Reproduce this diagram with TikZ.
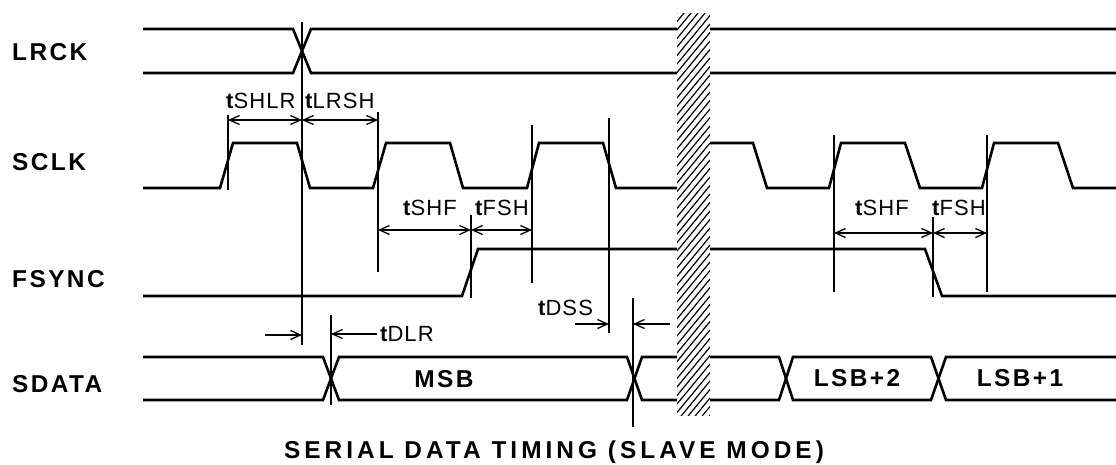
\documentclass[tikz,border=0pt]{standalone}
\usepackage{fontspec}
\setmainfont{Liberation Sans}
\newfontfamily\lab[LetterSpace=10]{Liberation Sans}
\newfontfamily\tim[LetterSpace=5]{Liberation Sans}
\newfontfamily\ttl[LetterSpace=16.5]{Liberation Sans}
\usetikzlibrary{arrows.meta}
\begin{document}
\begin{tikzpicture}[x=1pt,y=-1pt,
  wave/.style={line width=2.6pt, line join=miter},
  vline/.style={line width=1.3pt},
  dimarr/.style={line width=1.3pt, {Straight Barb[length=10pt,width=9pt]}-{Straight Barb[length=10pt,width=9pt]}},
  onearr/.style={line width=1.3pt, -{Straight Barb[length=10pt,width=9pt]}},
  siglab/.style={font=\lab\bfseries\fontsize{24.4}{26}\selectfont, anchor=base west, inner sep=0pt},
  datlab/.style={font=\lab\bfseries\fontsize{24.4}{26}\selectfont, anchor=base, inner sep=0pt},
  tlab/.style={font=\tim\fontsize{22}{24}\selectfont, anchor=base west, inner sep=0pt},
  ttlab/.style={font=\ttl\bfseries\fontsize{24.4}{26}\selectfont, anchor=base, inner sep=0pt},
]
\useasboundingbox (0,0) rectangle (1116,464);
% LRCK
\draw[wave] (143,29) -- (293,29) -- (311,73) -- (677,73);
\draw[wave] (143,73) -- (293,73) -- (311,29) -- (677,29);
\draw[wave] (710,29) -- (1122,29) -- (1135,73) -- (710,73);
% SCLK
\draw[wave] (143,188) -- (220,188) -- (233,143) -- (297,143) -- (310,188) -- (373,188) -- (386,143) -- (450,143) -- (463,188) -- (527,188) -- (539,143) -- (603,143) -- (616,188) -- (677,188);
\draw[wave] (710,143) -- (753,143) -- (767,188) -- (829,188) -- (841,143) -- (905,143) -- (920,188) -- (982,188) -- (994,143) -- (1058,143) -- (1073,188) -- (1122,188);
% FSYNC
\draw[wave] (143,296) -- (462,296) -- (478,249) -- (677,249);
\draw[wave] (710,249) -- (925,249) -- (942,296) -- (1122,296);
% SDATA
\draw[wave] (143,357) -- (323,357) -- (339,400) -- (627,400) -- (642,357) -- (677,357);
\draw[wave] (143,400) -- (323,400) -- (339,357) -- (627,357) -- (642,400) -- (677,400);
\draw[wave] (710,357) -- (779,357) -- (793,400) -- (931,400) -- (946,357) -- (1122,357);
\draw[wave] (710,400) -- (779,400) -- (793,357) -- (931,357) -- (946,400) -- (1122,400);
% vertical reference lines
\draw[vline] (302,22) -- (302,345);
\draw[vline] (228,115) -- (228,190);
\draw[vline] (378,112) -- (378,272);
\draw[vline] (532,125) -- (532,283);
\draw[vline] (609,118) -- (609,333);
\draw[vline] (471,215) -- (471,298);
\draw[vline] (633,298) -- (633,427);
\draw[vline] (331,315) -- (331,405);
\draw[vline] (834,135) -- (834,292);
\draw[vline] (987,135) -- (987,292);
\draw[vline] (933,217) -- (933,297);
% dimension arrows
\draw[dimarr] (228,120) -- (302,120);
\draw[dimarr] (302,120) -- (378,120);
\draw[dimarr] (378,230) -- (471,230);
\draw[dimarr] (471,230) -- (532,230);
\draw[dimarr] (834,233) -- (933,233);
\draw[dimarr] (933,233) -- (987,233);
\draw[onearr] (575,324) -- (609,324);
\draw[onearr] (670,324) -- (633,324);
\draw[onearr] (265,335) -- (302,335);
\draw[onearr] (377,334) -- (331,334);
% hatch break
\fill[white] (677,13) rectangle (710,415);
\begin{scope}
\clip (677,13) rectangle (710,415);
\foreach \k in {0,...,53} \draw[line width=1.2pt] (677,13+8.5*\k) -- ++(33,-40);
\end{scope}
% signal labels
\node[siglab] (lrck) at (12,60) {LRCK};
\node[siglab] (sclk) at (12,170) {SCLK};
\node[siglab] (fsync) at (12,287) {FSYNC};
\node[siglab] (sdata) at (12,392) {SDATA};
\node[datlab] (msb) at (444,387) {MSB};
\node[datlab] (lsb2) at (857,386) {LSB+2};
\node[datlab] (lsb1) at (1020,386) {LSB+1};
% timing labels
\node[tlab] (tshlr) at (226,108) {{\bfseries t}SHLR};
\node[tlab] (tlrsh) at (305,108) {{\bfseries t}LRSH};
\node[tlab] (tshf) at (403,215) {{\bfseries t}SHF};
\node[tlab] (tfsh) at (475,215) {{\bfseries t}FSH};
\node[tlab] (tshfb) at (855,215) {{\bfseries t}SHF};
\node[tlab] (tfshb) at (932,215) {{\bfseries t}FSH};
\node[tlab] (tdss) at (538,315) {{\bfseries t}DSS};
\node[tlab] (tdlr) at (380,341) {{\bfseries t}DLR};
% title
\node[ttlab] (title) at (554,458) {SERIAL DATA TIMING (SLAVE MODE)};
\end{tikzpicture}
\end{document}
